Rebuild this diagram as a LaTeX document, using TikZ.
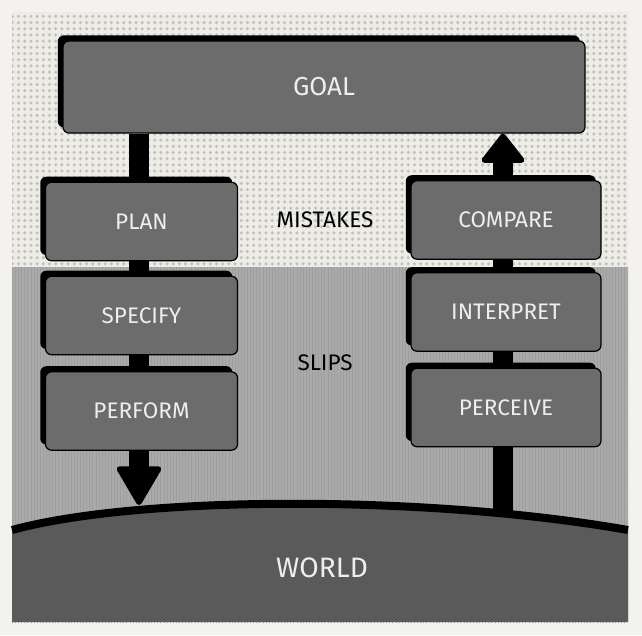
\documentclass[tikz,border=0pt]{standalone}
\usepackage{fontspec}
\setmainfont{Fira Sans}
\usetikzlibrary{arrows.meta,shadows,patterns.meta,backgrounds}
\definecolor{paper}{HTML}{F3F2EE}
\definecolor{mistfill}{HTML}{EDECE7}
\definecolor{mistdot}{HTML}{C2C1BC}
\definecolor{slipfill}{HTML}{AAAAAA}
\definecolor{sliplines}{HTML}{9E9E9E}
\definecolor{worldfill}{HTML}{5A5A5A}
\definecolor{boxgray}{HTML}{6C6C6C}
\definecolor{boxtext}{HTML}{EEEEEE}
\begin{document}
\begin{tikzpicture}[x=0.25mm,y=-0.25mm,
  stage/.style={rectangle, rounded corners=1.5mm, draw=black, line width=0.3mm, fill=boxgray, text=boxtext, font=\fontsize{16}{18}\selectfont, minimum width=48mm, minimum height=19.6mm, drop shadow={shadow xshift=-1.3mm, shadow yshift=1.4mm, fill=black, opacity=1}},
  flow/.style={line width=5mm, draw=black, -{Triangle[width=11.8mm,length=10.4mm,line width=1.4mm,round]}},
  zone/.style={font=\fontsize{16}{18}\selectfont, text=black}]
\useasboundingbox (0,0) rectangle (642,635);
\node [stage, minimum width=130.5mm, minimum height=23mm, font=\fontsize{18.5}{20}\selectfont] (goal) at (324,87) {GOAL};
\node [stage] (plan) at (141.5,221.5) {PLAN};
\node [stage] (specify) at (141.5,315.5) {SPECIFY};
\node [stage] (perform) at (141.5,411) {PERFORM};
\node [stage, minimum width=47.5mm] (compare) at (506,220) {COMPARE};
\node [stage, minimum width=47.5mm] (interpret) at (506,312) {INTERPRET};
\node [stage, minimum width=47.5mm] (perceive) at (506,407.5) {PERCEIVE};
\node [zone] (mistakes) at (325,220) {MISTAKES};
\node [zone] (slips) at (325,363) {SLIPS};
\node [zone, text=boxtext, font=\fontsize{20}{22}\selectfont] (world) at (322,568) {WORLD};
\coordinate (act) at (139,505);
\coordinate (sense) at (503,514);
\begin{scope}[on background layer]
\fill [paper] (0,0) rectangle (642,635);
\fill [mistfill] (12,12) rectangle (628,267);
\fill [pattern={Dots[distance=4.4pt,radius=1.25pt]}, pattern color=mistdot] (12,12) rectangle (628,267);
\fill [slipfill] (12,267) rectangle (628,622);
\fill [pattern={Lines[angle=90,distance=2.2pt,line width=0.5pt]}, pattern color=sliplines] (12,267) rectangle (628,622);
\fill [worldfill] (12,530) .. controls (140,495) and (430,495) .. (628,530) -- (628,622) -- (12,622) -- cycle;
\draw [flow] (goal.south -| act) -- (act);
\draw [flow, -{Triangle[width=11.8mm,length=7.8mm,line width=1.4mm,round]}] (sense) -- (goal.south -| sense);
\draw [line width=2mm] (12,530) .. controls (140,495) and (430,495) .. (628,530);
\end{scope}
\end{tikzpicture}
\end{document}
